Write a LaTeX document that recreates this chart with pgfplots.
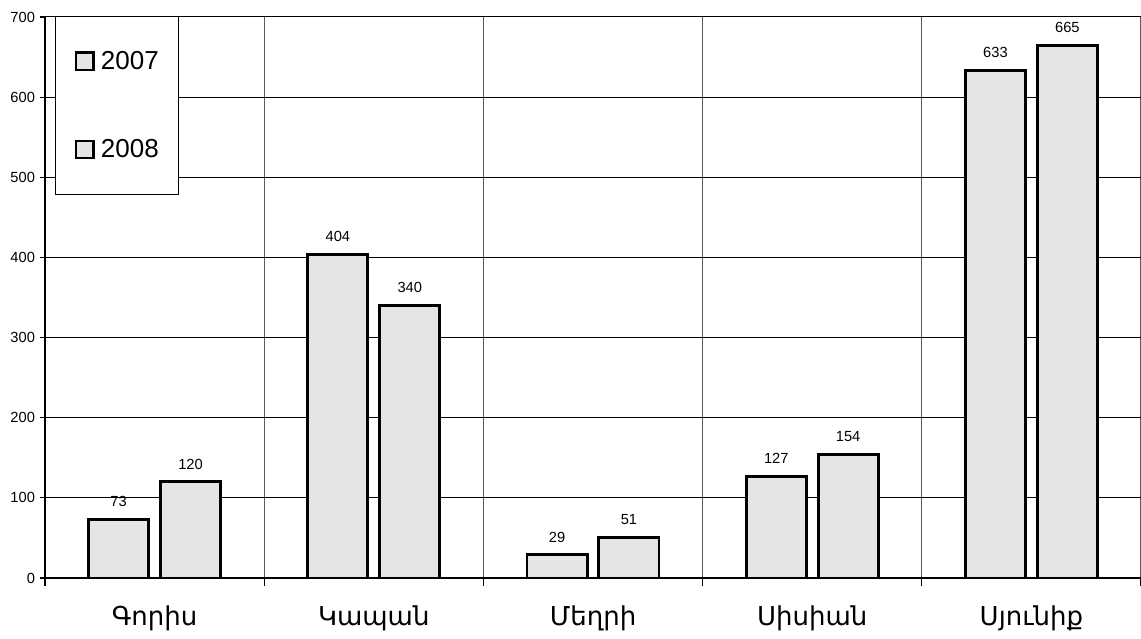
\documentclass[border=0pt]{standalone}
\usepackage{pgfplots}
\pgfplotsset{compat=1.18}
\usepackage{fontspec}
\setmainfont{Liberation Sans}
\newfontfamily\armfont{DejaVu Sans}

\begin{document}
\begin{tikzpicture}
  \begin{axis}[
    name=ax,
    scale only axis,
    width=822pt, height=420.75pt,
    xmin=-0.5, xmax=4.5, ymin=0, ymax=700,
    axis lines*=left,
    axis line style={black, line width=0.9pt},
    tick align=outside,
    xtick={0,1,2,3,4},
    xticklabels={Գորիս,Կապան,Մեղրի,Սիսիան,Սյունիք},
    xticklabel style={font=\armfont\fontsize{19.5}{22}\selectfont, yshift=-13.5pt},
    major x tick style={draw=none},
    minor xtick={-0.5,0.5,...,4.5},
    minor tick length=6pt,
    minor x tick style={black, line width=0.8pt},
    xminorgrids=true,
    minor grid style={black!65, line width=0.8pt},
    ytick={0,100,...,600},
    extra y ticks={700},
    extra y tick style={grid style={gray, line width=1.6pt}},
    ymajorgrids=true,
    major grid style={black, line width=0.75pt},
    major tick length=4pt,
    y tick style={black, line width=0.8pt},
    yticklabel style={font=\fontsize{11}{13}\selectfont},
    /pgf/number format/assume math mode=true,
    clip=false,
    ybar,
    bar width=0.274,
    nodes near coords,
    every node near coord/.append style={font=\fontsize{11}{13}\selectfont, yshift=5pt, black},
    legend style={
      at={(rel axis cs:0.009,1.002)},
      anchor=north west,
      draw=black, line width=0.75pt,
      fill=white,
      font=\fontsize{19.5}{21}\selectfont,
      inner xsep=13pt, inner ysep=24pt,
      row sep=47pt,
      cells={anchor=west}},
    legend image code/.code={%
      \path (0pt,0pt) (17pt,0pt);
      \draw[#1, line width=1.6pt] (1.5pt,-6.5pt) rectangle (14.5pt,6.5pt);},
  ]
    % 2007
    \addplot[bar shift=-0.164, draw=black, line width=2.2pt, fill=black!10] coordinates {
      (0,73) (1,404) (2,29) (3,127) (4,633)
    };
    % 2008
    \addplot[bar shift=0.164, draw=black, line width=2.2pt, fill=black!10] coordinates {
      (0,120) (1,340) (2,51) (3,154) (4,665)
    };
    \legend{2007,2008}
  \end{axis}
  \pgfresetboundingbox
  \path[use as bounding box] ([xshift=-33.75pt,yshift=-45.75pt]ax.south west) rectangle ([yshift=12.75pt]ax.north east);
\end{tikzpicture}
\end{document}
